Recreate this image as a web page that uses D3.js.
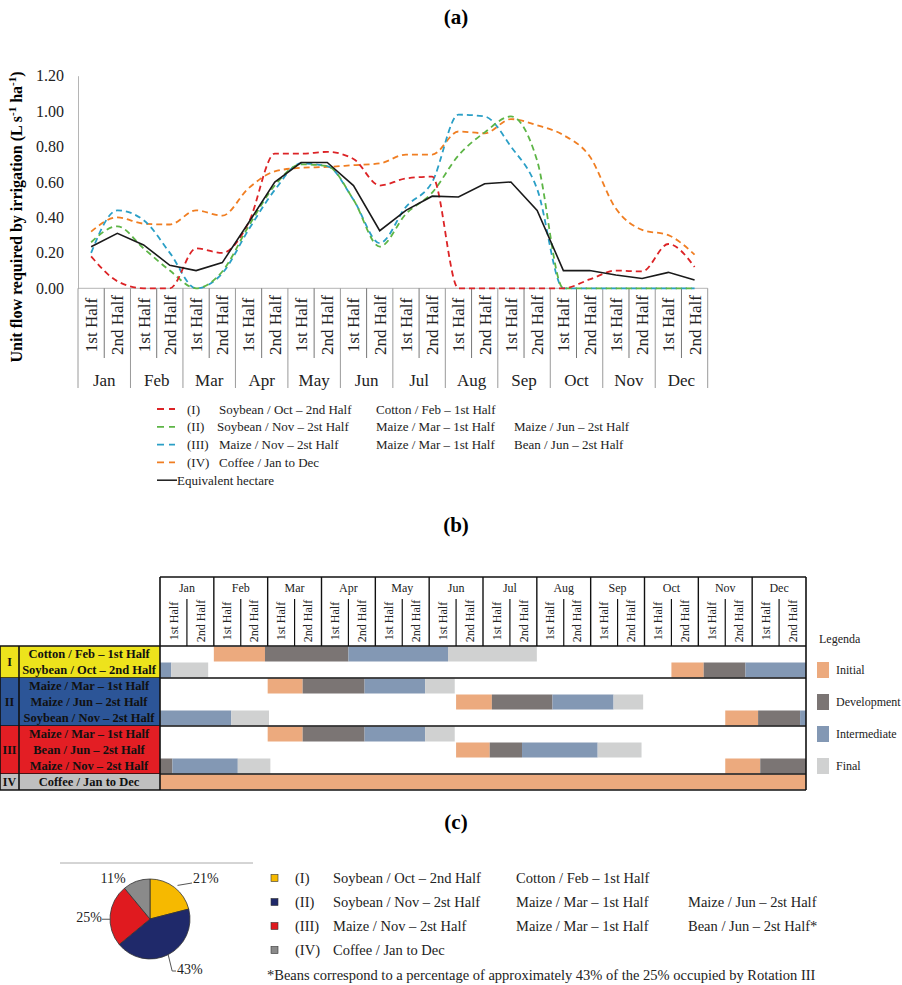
<!DOCTYPE html>
<html>
<head>
<meta charset="utf-8">
<script src="https://cdn.jsdelivr.net/npm/d3@7"></script>
<style>
  body { margin: 0; background: #fff; }
  svg, svg text { font-family: 'Liberation Serif', 'Times New Roman', serif; }
</style>
</head>
<body>
<script>
const months = ['Jan', 'Feb', 'Mar', 'Apr', 'May', 'Jun', 'Jul', 'Aug', 'Sep', 'Oct', 'Nov', 'Dec'];
const halves = ['1st Half', '2nd Half'];
const yTicks = [0, 0.2, 0.4, 0.6, 0.8, 1.0, 1.2];

// (a) unit flow, one value per half month
const rotationI = [0.18, 0.04, 0, 0, 0.225, 0.20, 0.37, 0.76, 0.76, 0.77, 0.73, 0.58, 0.62, 0.63, 0, 0, 0, 0, 0, 0.05, 0.10, 0.095, 0.25, 0.12];
const rotationII = [0.26, 0.35, 0.225, 0.10, 0, 0.095, 0.35, 0.58, 0.70, 0.69, 0.50, 0.235, 0.42, 0.54, 0.75, 0.88, 0.97, 0.72, 0, 0, 0, 0, 0, 0];
const rotationIII = [0.20, 0.44, 0.385, 0.20, 0, 0.085, 0.33, 0.555, 0.705, 0.69, 0.50, 0.255, 0.46, 0.60, 0.98, 0.97, 0.80, 0.56, 0, 0, 0, 0, 0, 0];
const rotationIV = [0.32, 0.40, 0.365, 0.36, 0.44, 0.41, 0.565, 0.66, 0.68, 0.685, 0.695, 0.705, 0.755, 0.755, 0.885, 0.875, 0.955, 0.92, 0.865, 0.745, 0.45, 0.33, 0.30, 0.19];
const equivalentHectare = [0.235, 0.31, 0.245, 0.13, 0.10, 0.145, 0.37, 0.60, 0.71, 0.71, 0.58, 0.325, 0.44, 0.52, 0.515, 0.59, 0.60, 0.44, 0.10, 0.10, 0.075, 0.055, 0.09, 0.047];

const seriesNames = ['(I)', '(II)', '(III)', '(IV)', 'Equivalent hectare'];
const legendCrops = [
  ['Soybean / Oct \u2013 2nd Half', 'Cotton / Feb \u2013 1st Half'],
  ['Soybean / Nov \u2013 2st Half', 'Maize / Mar \u2013 1st Half', 'Maize / Jun \u2013 2st Half'],
  ['Maize / Nov \u2013 2st Half', 'Maize / Mar \u2013 1st Half', 'Bean / Jun \u2013 2st Half'],
  ['Coffee / Jan to Dec'],
  []
];

// (b) crop calendar: [phase, start, end] in half-month units (0 = Jan 1st Half)
const phases = ['Initial', 'Development', 'Intermediate', 'Final'];
const rotationGroups = ['I', 'II', 'III', 'IV'];
const calendarRows = [
  { group: 'I', crop: 'Cotton / Feb \u2013 1st Half', bars: [[0, 2, 3.9], [1, 3.9, 7], [2, 7, 10.7], [3, 10.7, 14]] },
  { group: 'I', crop: 'Soybean / Oct \u2013 2nd Half', bars: [[2, 0, 0.42], [3, 0.42, 1.79], [0, 19, 20.2], [1, 20.2, 21.75], [2, 21.75, 24]] },
  { group: 'II', crop: 'Maize / Mar \u2013 1st Half', bars: [[0, 4, 5.3], [1, 5.3, 7.6], [2, 7.6, 9.85], [3, 9.85, 10.95]] },
  { group: 'II', crop: 'Maize / Jun \u2013 2st Half', bars: [[0, 11, 12.33], [1, 12.33, 14.58], [2, 14.58, 16.85], [3, 16.85, 17.95]] },
  { group: 'II', crop: 'Soybean / Nov \u2013 2st Half', bars: [[2, 0, 2.65], [3, 2.65, 4.05], [0, 21, 22.22], [1, 22.22, 23.78], [2, 23.78, 24]] },
  { group: 'III', crop: 'Maize / Mar \u2013 1st Half', bars: [[0, 4, 5.3], [1, 5.3, 7.6], [2, 7.6, 9.85], [3, 9.85, 10.95]] },
  { group: 'III', crop: 'Bean / Jun \u2013 2st Half', bars: [[0, 11, 12.25], [1, 12.25, 13.45], [2, 13.45, 16.26], [3, 16.26, 17.89]] },
  { group: 'III', crop: 'Maize / Nov \u2013 2st Half', bars: [[1, 0, 0.46], [2, 0.46, 2.89], [3, 2.89, 4.1], [0, 21, 22.3], [1, 22.3, 24]] },
  { group: 'IV', crop: 'Coffee / Jan to Dec', bars: [[0, 0, 24]] }
];

// (c) share of area per rotation
const pieLabels = ['21%', '43%', '25%', '11%'];
const pieValues = [21, 43, 25, 11];

const lineColors = ['#dc2326', '#5db546', '#2a9fc6', '#f07e22', '#1a1a1a'];
const groupColors = { I: '#ede31c', II: '#2c5597', III: '#e31e24', IV: '#bfbfbf' };
const phaseColors = ['#ecaa7e', '#7b7574', '#8398b4', '#d0d1d1'];
const pieColors = ['#f6b900', '#1f296a', '#e01a1f', '#8a8a8a'];

const W = 902, H = 985;
const svg = d3.select('body').append('svg').attr('width', W).attr('height', H);

const title = (txt, y) => svg.append('text')
  .attr('x', 456).attr('y', y)
  .attr('text-anchor', 'middle')
  .style('font-weight', 'bold').style('font-size', '21px')
  .text(txt);

title('(a)', 24);
title('(b)', 532);
title('(c)', 829);

// ---------- (a) line chart ----------
const halfIds = d3.range(24);
const x = d3.scaleBand().domain(halfIds).range([78, 707.7]);
const y = d3.scaleLinear().domain([0, 1.2]).range([288.3, 75.7]);
const xc = i => x(i) + x.bandwidth() / 2;

const gA = svg.append('g');

const yAxis = gA.append('g')
  .attr('transform', 'translate(78,0)')
  .call(d3.axisLeft(y).tickValues(yTicks).tickFormat(d3.format('.2f')).tickSize(0).tickPadding(14))
  .attr('font-family', null);
yAxis.select('.domain').attr('stroke', '#b5b5b5');
yAxis.selectAll('text').style('font-size', '16px').attr('fill', '#222');

gA.append('line')
  .attr('x1', 78).attr('x2', 707.7).attr('y1', y(0)).attr('y2', y(0))
  .attr('stroke', '#b5b5b5');

// category axis: half-month labels and month groups
halfIds.forEach(i => {
  const xl = x(i) + x.bandwidth();
  const monthEnd = i % 2 === 1;
  gA.append('line')
    .attr('x1', xl).attr('x2', xl)
    .attr('y1', y(0)).attr('y2', monthEnd ? 388 : 358)
    .attr('stroke', monthEnd ? '#9a9a9a' : '#777');
  gA.append('text')
    .attr('transform', `translate(${xc(i)},325) rotate(-90)`)
    .attr('text-anchor', 'middle').attr('dy', '0.35em')
    .style('font-size', '17px').attr('fill', '#222')
    .text(halves[i % 2]);
});
gA.append('line').attr('x1', 78).attr('x2', 78).attr('y1', y(0)).attr('y2', 388).attr('stroke', '#9a9a9a');

months.forEach((m, k) => {
  gA.append('text')
    .attr('x', (x(2 * k) + x(2 * k + 1) + x.bandwidth()) / 2).attr('y', 386)
    .attr('text-anchor', 'middle')
    .style('font-size', '17px').attr('fill', '#222')
    .text(m);
});

const yLabel = gA.append('text')
  .attr('transform', 'translate(22,217) rotate(-90)')
  .attr('text-anchor', 'middle')
  .style('font-weight', 'bold').style('font-size', '16px');
yLabel.append('tspan').text('Unit flow required by irrigation (L s');
yLabel.append('tspan').attr('dy', -6).style('font-size', '11px').text('-1');
yLabel.append('tspan').attr('dy', 6).text(' ha');
yLabel.append('tspan').attr('dy', -6).style('font-size', '11px').text('-1');
yLabel.append('tspan').attr('dy', 6).text(')');

const line = d3.line().x((d, i) => xc(i)).y(d => y(d)).curve(d3.curveMonotoneX);
const allSeries = [rotationI, rotationII, rotationIII, rotationIV, equivalentHectare];
const drawOrder = [3, 2, 1, 0, 4];
drawOrder.forEach(s => {
  gA.append('path')
    .datum(allSeries[s])
    .attr('d', s === 4 ? line.curve(d3.curveLinear) : line.curve(d3.curveMonotoneX))
    .attr('fill', 'none')
    .attr('stroke', lineColors[s])
    .attr('stroke-width', s === 4 ? 1.6 : 1.8)
    .attr('stroke-dasharray', s === 4 ? null : '6,4');
});

// legend (a)
const legA = gA.append('g').style('font-size', '13px').attr('fill', '#222');
const legColX = [219, 376, 514];
seriesNames.forEach((name, r) => {
  const ly = 409 + r * 17.8;
  const isHect = r === 4;
  legA.append('line')
    .attr('x1', 157).attr('x2', isHect ? 177 : 175)
    .attr('y1', ly).attr('y2', ly)
    .attr('stroke', lineColors[r])
    .attr('stroke-width', isHect ? 1.5 : 1.8)
    .attr('stroke-dasharray', isHect ? null : '7,5');
  legA.append('text')
    .attr('x', isHect ? 177 : 187).attr('y', ly).attr('dy', '0.35em')
    .text(name);
  legendCrops[r].forEach((c, j) => {
    legA.append('text')
      .attr('x', legColX[j] - (j === 0 && r === 1 ? 2 : 0)).attr('y', ly).attr('dy', '0.35em')
      .text(c);
  });
});

// ---------- (b) crop calendar ----------
const gB = svg.append('g');
const tLeft = 160, tRight = 806, tTop = 577, hBottom = 646, rowH = 16;
const xb = d3.scaleLinear().domain([0, 24]).range([tLeft, tRight]);

// bars
calendarRows.forEach((row, r) => {
  const ry = hBottom + r * rowH;
  row.bars.forEach(([p, s, e]) => {
    gB.append('rect')
      .attr('x', xb(s)).attr('y', ry + 0.5)
      .attr('width', xb(e) - xb(s)).attr('height', rowH - 1)
      .attr('fill', phaseColors[p]);
  });
});

// label cells
let rowStart = 0;
rotationGroups.forEach(g => {
  const rows = calendarRows.filter(d => d.group === g);
  const gy = hBottom + rowStart * rowH;
  const gh = rows.length * rowH;
  gB.append('rect').attr('x', 0).attr('y', gy).attr('width', tLeft).attr('height', gh).attr('fill', groupColors[g]);
  gB.append('text')
    .attr('x', 9.5).attr('y', gy + gh / 2).attr('dy', '0.35em')
    .attr('text-anchor', 'middle')
    .style('font-weight', 'bold').style('font-size', '12px').attr('fill', '#111')
    .text(g);
  rows.forEach((row, k) => {
    gB.append('text')
      .attr('x', 89).attr('y', gy + k * rowH + rowH / 2).attr('dy', '0.35em')
      .attr('text-anchor', 'middle')
      .style('font-weight', 'bold').style('font-size', '12.5px').attr('fill', '#111')
      .text(row.crop);
  });
  gB.append('line')
    .attr('x1', 0).attr('x2', tRight).attr('y1', gy + gh).attr('y2', gy + gh)
    .attr('stroke', '#111').attr('stroke-width', 1.6);
  rowStart += rows.length;
});
const tBottom = hBottom + calendarRows.length * rowH;
gB.append('line').attr('x1', 0).attr('x2', tRight).attr('y1', hBottom).attr('y2', hBottom).attr('stroke', '#111').attr('stroke-width', 1.6);
gB.append('line').attr('x1', tLeft).attr('x2', tRight).attr('y1', tTop).attr('y2', tTop).attr('stroke', '#111').attr('stroke-width', 1.6);
[[0, hBottom], [19, hBottom], [tLeft, tTop], [tRight, tTop]].forEach(([lx, ly]) => {
  gB.append('line').attr('x1', lx).attr('x2', lx).attr('y1', ly).attr('y2', tBottom)
    .attr('stroke', '#111').attr('stroke-width', 1.6);
});

// header
months.forEach((m, k) => {
  const x0 = xb(2 * k), xm = xb(2 * k + 1), x1 = xb(2 * k + 2);
  gB.append('text')
    .attr('x', (x0 + x1) / 2).attr('y', 588).attr('dy', '0.35em')
    .attr('text-anchor', 'middle').style('font-size', '12px').attr('fill', '#222')
    .text(m);
  if (k > 0) {
    gB.append('line').attr('x1', x0).attr('x2', x0).attr('y1', tTop).attr('y2', hBottom).attr('stroke', '#111').attr('stroke-width', 1.4);
  }
  gB.append('line').attr('x1', xm).attr('x2', xm).attr('y1', 599).attr('y2', hBottom).attr('stroke', '#111').attr('stroke-width', 1.2);
  halves.forEach((h, j) => {
    gB.append('text')
      .attr('transform', `translate(${(xb(2 * k + j) + xb(2 * k + j + 1)) / 2},621) rotate(-90)`)
      .attr('text-anchor', 'middle').attr('dy', '0.35em')
      .style('font-size', '12px').attr('fill', '#222')
      .text(h);
  });
});

// legend (b)
const legB = gB.append('g').style('font-size', '12px').attr('fill', '#222');
legB.append('text').attr('x', 819).attr('y', 639).attr('dy', '0.35em').text('Legenda');
phases.forEach((p, k) => {
  const cy = 670 + k * 32;
  legB.append('rect').attr('x', 817).attr('y', cy - 8).attr('width', 12).attr('height', 16).attr('fill', phaseColors[k]);
  legB.append('text').attr('x', 836).attr('y', cy).attr('dy', '0.35em').text(p);
});

// ---------- (c) pie ----------
const gC = svg.append('g');
const pcx = 150, pcy = 919, pr = 40;
gC.append('line').attr('x1', 60).attr('x2', 253).attr('y1', 863).attr('y2', 863).attr('stroke', '#aaa');

const pie = d3.pie().sort(null).value(d => d)(pieValues);
const arc = d3.arc().innerRadius(0).outerRadius(pr);
const pg = gC.append('g').attr('transform', `translate(${pcx},${pcy})`);
pg.selectAll('path').data(pie).join('path')
  .attr('d', arc)
  .attr('fill', (d, i) => pieColors[i])
  .attr('stroke', '#333').attr('stroke-width', 0.8);

const edge = d => {
  const a = (d.startAngle + d.endAngle) / 2;
  return [Math.sin(a) * pr, -Math.cos(a) * pr];
};
// leader lines
const e0 = edge(pie[0]), e1 = edge(pie[1]), e2 = edge(pie[2]);
pg.append('polyline').attr('points', `${e0[0] + 3},${e0[1] - 2} ${42},${-36}`).attr('fill', 'none').attr('stroke', '#555');
pg.append('polyline').attr('points', `${e1[0]},${e1[1]} ${e1[0] + 4},${52} ${26},${52}`).attr('fill', 'none').attr('stroke', '#555');
pg.append('polyline').attr('points', `${e2[0]},${e2[1] + 4} ${-48},${e2[1] + 4}`).attr('fill', 'none').attr('stroke', '#555');

const pctStyle = s => s.style('font-size', '14px').attr('fill', '#222');
pg.append('text').attr('x', 43).attr('y', -41).attr('dy', '0.35em').call(pctStyle).text(pieLabels[0]);
pg.append('text').attr('x', 27).attr('y', 50).attr('dy', '0.35em').call(pctStyle).text(pieLabels[1]);
pg.append('text').attr('x', -48).attr('y', e2[1] + 2).attr('dy', '0.35em').attr('text-anchor', 'end').call(pctStyle).text(pieLabels[2]);
pg.append('text').attr('x', -37).attr('y', -41).attr('dy', '0.35em').attr('text-anchor', 'middle').call(pctStyle).text(pieLabels[3]);

// legend (c)
const legC = gC.append('g').style('font-size', '14.5px').attr('fill', '#222');
const legCropX = [333, 516, 688];
const pieLegendCrops = [
  legendCrops[0],
  legendCrops[1],
  [legendCrops[2][0], legendCrops[2][1], legendCrops[2][2] + '*'],
  legendCrops[3]
];
pieLegendCrops.forEach((crops, r) => {
  const cy = 878 + r * 24;
  legC.append('rect').attr('x', 271).attr('y', cy - 3.5).attr('width', 7).attr('height', 7)
    .attr('fill', pieColors[r]).attr('stroke', '#333').attr('stroke-width', 0.6);
  legC.append('text').attr('x', 295).attr('y', cy).attr('dy', '0.35em').text(seriesNames[r]);
  crops.forEach((c, j) => {
    legC.append('text').attr('x', legCropX[j]).attr('y', cy).attr('dy', '0.35em').text(c);
  });
});
legC.append('text').attr('x', 267).attr('y', 975).attr('dy', '0.35em')
  .text('*Beans correspond to a percentage of approximately 43% of the 25% occupied by Rotation III');
</script>
</body>
</html>
